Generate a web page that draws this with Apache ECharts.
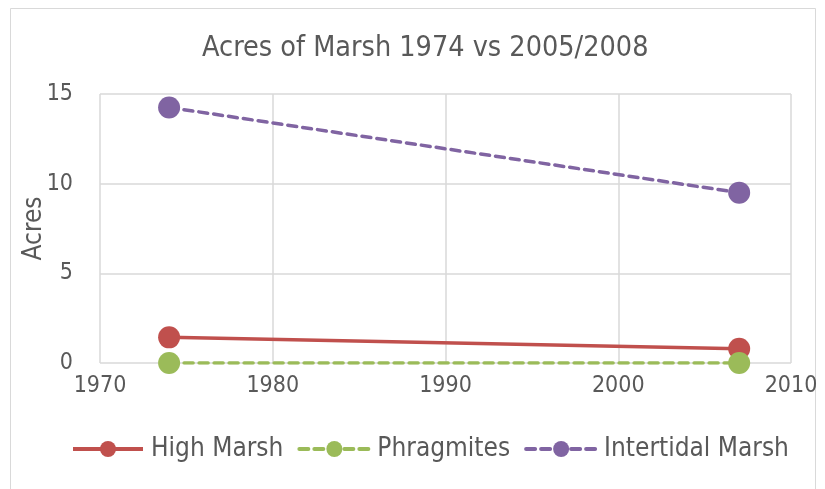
<!DOCTYPE html>
<html>
<head>
<meta charset="utf-8">
<script src="https://cdn.jsdelivr.net/npm/echarts@6/dist/echarts.min.js"></script>
<style>html,body{margin:0;padding:0;background:#fff}#c{width:825px;height:489px}</style>
</head>
<body>
<div id="c"></div>
<script>
var years = [1974, 2007];
var highMarsh = [1.43, 0.8];
var phragmites = [0, 0];
var intertidal = [14.25, 9.5];
var seriesNames = ['High Marsh', 'Phragmites', 'Intertidal Marsh'];
var xTicks = [1970, 2010, 10];
var yTicks = [0, 15, 5];

var FONT = '"DejaVu Sans Condensed", "Liberation Sans Narrow", sans-serif';
var TXT = '#595959';
function pts(vals){ return years.map(function(y,i){ return [y, vals[i]]; }); }

var chart = echarts.init(document.getElementById('c'), null, {renderer:'canvas'});
chart.setOption({
  animation:false,
  backgroundColor:'#fff',
  title:{ text:'Acres of Marsh 1974 vs 2005/2008', left:197, top:29,
    textStyle:{ fontFamily:FONT, fontSize:28.5, fontWeight:'normal', color:TXT } },
  graphic:[{ type:'rect', shape:{x:10.5,y:8.5,width:805,height:490}, style:{fill:'none', stroke:'#d9d9d9', lineWidth:1}, silent:true }],
  grid:{ left:100, right:34, top:94, bottom:126, containLabel:false },
  legend:{ bottom:22, left:66, itemWidth:70, itemHeight:20, itemGap:14,
    lineStyle:{ width:4 },
    textStyle:{ fontFamily:FONT, fontSize:26, color:TXT, padding:[0,0,0,3] },
    data:seriesNames },
  xAxis:{ type:'value', min:xTicks[0], max:xTicks[1], interval:xTicks[2],
    axisLine:{ show:false }, axisTick:{show:false},
    splitLine:{ show:true, lineStyle:{ color:'#d9d9d9', width:1.5 } },
    axisLabel:{ fontFamily:FONT, fontSize:23, color:TXT, margin:12,
      formatter:function(v){ return String(v); } } },
  yAxis:{ type:'value', min:yTicks[0], max:yTicks[1], interval:yTicks[2],
    name:'Acres', nameLocation:'middle', nameGap:53, nameRotate:90, nameMoveOverlap:false,
    nameTextStyle:{ fontFamily:FONT, fontSize:26, color:TXT },
    axisLine:{show:false}, axisTick:{show:false},
    splitLine:{ show:true, lineStyle:{ color:'#d9d9d9', width:1.5 } },
    axisLabel:{ fontFamily:FONT, fontSize:23, color:TXT, margin:27 } },
  series:[
    { name:seriesNames[0], type:'line', data:pts(highMarsh), symbol:'circle', symbolSize:22,
      itemStyle:{ color:'#C0504D' }, lineStyle:{ width:3.5, color:'#C0504D' }, z:3 },
    { name:seriesNames[1], type:'line', data:pts(phragmites), symbol:'circle', symbolSize:22,
      itemStyle:{ color:'#9BBB59' }, lineStyle:{ width:3.5, color:'#9BBB59', type:[9,6], cap:'round' }, z:4 },
    { name:seriesNames[2], type:'line', data:pts(intertidal), symbol:'circle', symbolSize:22,
      itemStyle:{ color:'#8064A2' }, lineStyle:{ width:3.5, color:'#8064A2', type:[9,6], cap:'round' }, z:3 }
  ]
});
</script>
</body>
</html>
